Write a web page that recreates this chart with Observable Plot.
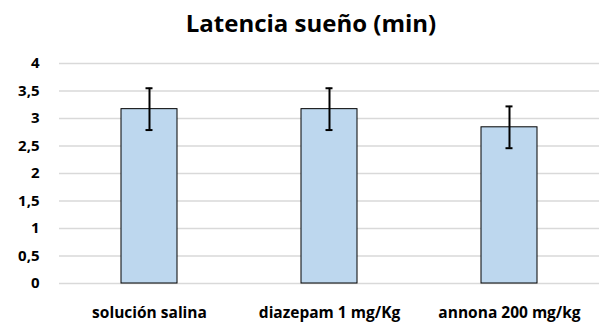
<!DOCTYPE html>
<html>
<head>
<meta charset="utf-8">
<script src="https://cdn.jsdelivr.net/npm/d3@7"></script>
<script src="https://cdn.jsdelivr.net/npm/@observablehq/plot@0.6"></script>
<style>
  html, body { margin: 0; padding: 0; background: #fff; }
  #wrap { width: 600px; height: 328px; position: relative; font-family: "Open Sans", sans-serif; }
  #title { height: 48px; line-height: 45px; text-align: center; font-size: 24px; font-weight: bold; color: #000; padding-left: 22px; box-sizing: border-box; }
  svg { display: block; }
</style>
</head>
<body>
<div id="wrap">
  <div id="title">Latencia sueño (min)</div>
  <div id="chart"></div>
</div>
<script>
const categories = ["solución salina", "diazepam 1 mg/Kg", "annona 200 mg/kg"];
const means = [3.17, 3.17, 2.84];
const errors = [0.38, 0.38, 0.38];
const yTicks = [0, 0.5, 1, 1.5, 2, 2.5, 3, 3.5, 4];
const yTickLabels = ["0", "0,5", "1", "1,5", "2", "2,5", "3", "3,5", "4"];

const data = categories.map((c, i) => ({cat: c, mean: means[i], lo: means[i] - errors[i], hi: means[i] + errors[i]}));

const chart = Plot.plot({
  width: 600,
  height: 280,
  marginTop: 15,
  marginBottom: 45,
  marginLeft: 59,
  marginRight: 1,
  style: {fontFamily: "'Open Sans', sans-serif", fontSize: "15px", fontWeight: "bold", color: "#000", background: "#fff"},
  x: {domain: categories, paddingInner: 0.69, paddingOuter: 0.345, label: null},
  y: {domain: [0, 4], label: null},
  marks: [
    Plot.gridY(yTicks, {stroke: "#d9d9d9", strokeOpacity: 1, strokeWidth: 1.3}),
    Plot.barY(data, {x: "cat", y: "mean", fill: "#bdd7ee", stroke: "#000", strokeWidth: 1}),
    Plot.ruleX(data, {x: "cat", y1: "lo", y2: "hi", stroke: "#000", strokeWidth: 2}),
    Plot.tickY(data, {x: "cat", y: "lo", stroke: "#000", strokeWidth: 2, insetLeft: 24.5, insetRight: 24.5}),
    Plot.tickY(data, {x: "cat", y: "hi", stroke: "#000", strokeWidth: 2, insetLeft: 24.5, insetRight: 24.5}),
    Plot.axisY({ticks: yTicks, tickFormat: (d) => yTickLabels[yTicks.indexOf(d)], tickSize: 0, tickPadding: 20, fontSize: 15}),
    Plot.axisX({tickSize: 0, tickPadding: 23, fontSize: 15.5})
  ]
});
document.getElementById("chart").appendChild(chart);
</script>
</body>
</html>
